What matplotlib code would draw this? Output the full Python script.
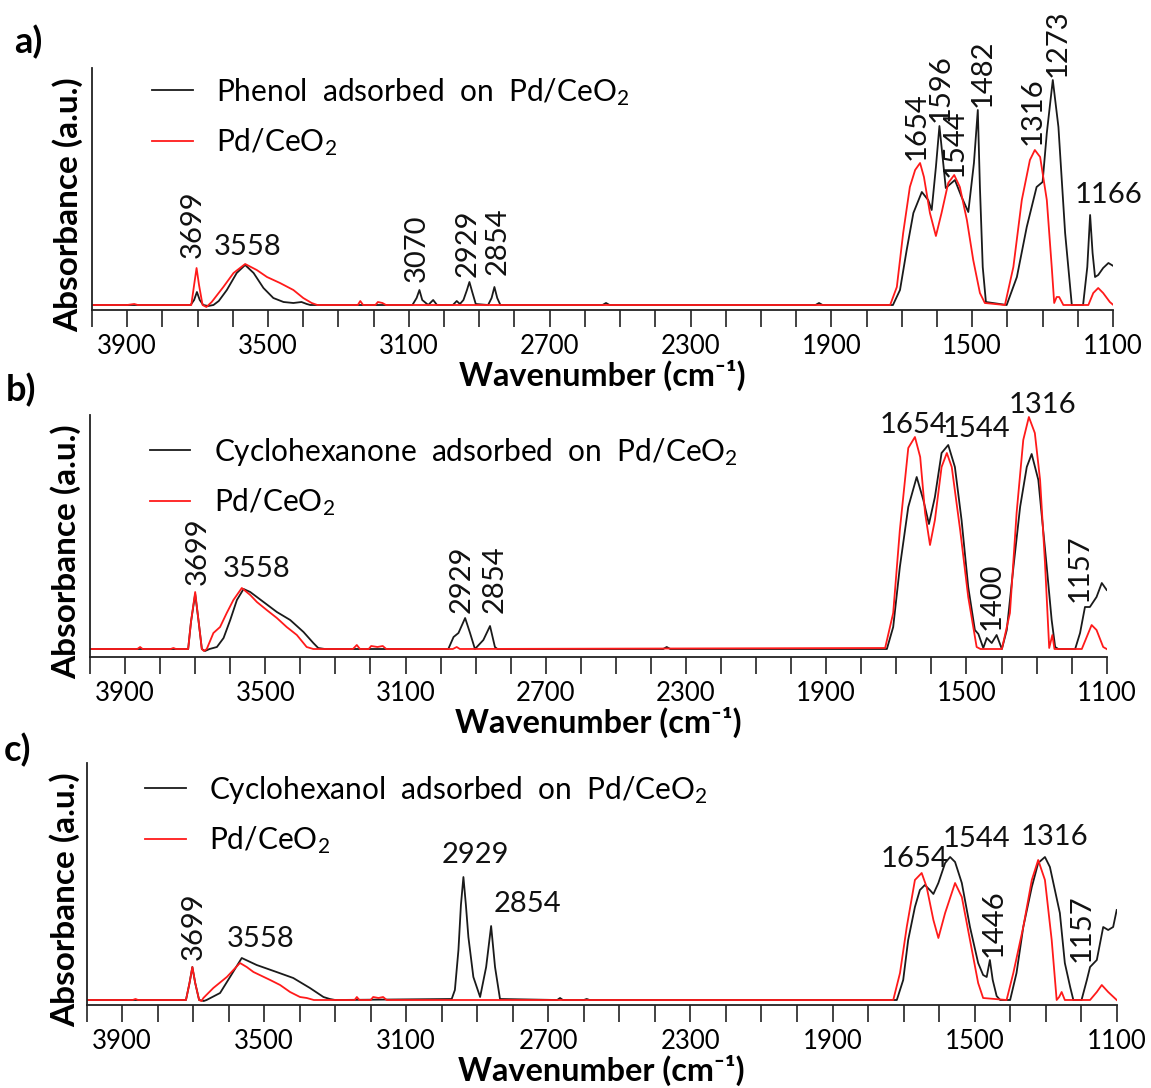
import matplotlib
matplotlib.use("Agg")
import matplotlib.pyplot as plt
from matplotlib.ticker import MultipleLocator, FixedLocator

plt.rcParams['font.family'] = ['Lato', 'DejaVu Sans']
plt.rcParams['mathtext.fontset'] = 'custom'
plt.rcParams['mathtext.rm'] = 'Lato'
plt.rcParams['mathtext.it'] = 'Lato:italic'
plt.rcParams['mathtext.bf'] = 'Lato:bold'

# ---- data: (wavenumber cm-1, absorbance a.u.) ----
a_black = [(4000, 0.05), (3720, 0.05), (3710, 0.10), (3702, 0.18), (3694, 0.10), (3684, 0.05), (3670, 0.04),
           (3655, 0.05), (3640, 0.09), (3617, 0.20), (3589, 0.37), (3565, 0.45), (3541, 0.37), (3513, 0.22),
           (3485, 0.12), (3456, 0.08), (3428, 0.07), (3405, 0.08), (3390, 0.06), (3380, 0.05), (3090, 0.05),
           (3078, 0.12), (3070, 0.20), (3062, 0.10), (3045, 0.05), (3031, 0.10), (3020, 0.05), (2975, 0.05),
           (2964, 0.09), (2955, 0.06), (2945, 0.10), (2935, 0.20), (2928, 0.28), (2920, 0.18), (2910, 0.06),
           (2875, 0.05), (2865, 0.12), (2857, 0.23), (2849, 0.12), (2840, 0.05), (2550, 0.05), (2540, 0.07),
           (2530, 0.05), (1945, 0.05), (1935, 0.07), (1925, 0.05), (1725, 0.05), (1705, 0.20), (1686, 0.60),
           (1667, 0.97), (1643, 1.18), (1625, 1.10), (1615, 1.00), (1603, 1.43), (1593, 1.84), (1584, 1.53),
           (1575, 1.22), (1549, 1.30), (1530, 1.13), (1511, 0.98), (1495, 1.47), (1484, 2.00), (1478, 1.23),
           (1470, 0.43), (1461, 0.08), (1402, 0.05), (1373, 0.33), (1345, 0.83), (1317, 1.23), (1300, 1.28),
           (1288, 1.77), (1271, 2.30), (1255, 1.83), (1236, 0.77), (1217, 0.05), (1185, 0.05), (1173, 0.43),
           (1165, 0.95), (1158, 0.57), (1151, 0.33), (1142, 0.35), (1128, 0.42), (1113, 0.47), (1099, 0.44)]

a_red = [(4000, 0.05), (3900, 0.05), (3880, 0.06), (3870, 0.05), (3718, 0.05), (3710, 0.25), (3703, 0.42),
         (3696, 0.25), (3686, 0.05), (3675, 0.03), (3660, 0.08), (3627, 0.23), (3598, 0.37), (3565, 0.46),
         (3532, 0.40), (3503, 0.33), (3466, 0.27), (3428, 0.20), (3400, 0.12), (3376, 0.07), (3360, 0.05),
         (3245, 0.05), (3238, 0.09), (3230, 0.05), (3195, 0.05), (3188, 0.08), (3175, 0.07), (3165, 0.05),
         (1733, 0.05), (1714, 0.23), (1696, 0.77), (1677, 1.23), (1662, 1.40), (1648, 1.47), (1637, 1.33),
         (1620, 0.97), (1603, 0.74), (1587, 0.97), (1568, 1.27), (1551, 1.35), (1535, 1.23), (1515, 0.90),
         (1497, 0.50), (1478, 0.17), (1464, 0.07), (1407, 0.05), (1383, 0.43), (1359, 1.10), (1336, 1.50),
         (1322, 1.60), (1307, 1.53), (1288, 1.10), (1274, 0.43), (1267, 0.07), (1260, 0.13), (1253, 0.13),
         (1241, 0.05), (1170, 0.05), (1156, 0.17), (1142, 0.22), (1128, 0.17), (1109, 0.08), (1099, 0.05)]

b_black = [(4000, 0.08), (3720, 0.08), (3712, 0.35), (3700, 0.63), (3690, 0.35), (3681, 0.08), (3672, 0.06),
           (3659, 0.08), (3638, 0.10), (3619, 0.19), (3600, 0.37), (3581, 0.57), (3562, 0.68), (3543, 0.65),
           (3505, 0.55), (3467, 0.45), (3429, 0.37), (3391, 0.25), (3363, 0.14), (3349, 0.09), (3330, 0.08),
           (2978, 0.08), (2963, 0.20), (2949, 0.24), (2930, 0.39), (2916, 0.24), (2902, 0.08), (2878, 0.17),
           (2859, 0.31), (2845, 0.10), (2838, 0.08), (2365, 0.08), (2355, 0.10), (2345, 0.08), (1727, 0.08),
           (1709, 0.30), (1690, 0.90), (1666, 1.50), (1642, 1.80), (1623, 1.57), (1607, 1.33), (1590, 1.60),
           (1571, 2.04), (1552, 2.12), (1533, 1.90), (1514, 1.37), (1495, 0.70), (1476, 0.27), (1466, 0.23),
           (1452, 0.09), (1442, 0.19), (1428, 0.14), (1414, 0.22), (1399, 0.08), (1385, 0.27), (1366, 0.90),
           (1347, 1.50), (1328, 1.90), (1314, 2.03), (1295, 1.77), (1271, 0.90), (1257, 0.37), (1247, 0.10),
           (1238, 0.08), (1190, 0.08), (1176, 0.24), (1162, 0.50), (1148, 0.50), (1129, 0.60), (1114, 0.74),
           (1100, 0.67)]

b_red = [(4000, 0.08), (3865, 0.08), (3857, 0.10), (3850, 0.08), (3770, 0.08), (3762, 0.09), (3755, 0.08),
         (3720, 0.08), (3712, 0.35), (3700, 0.65), (3690, 0.35), (3681, 0.08), (3675, 0.06), (3667, 0.08),
         (3648, 0.24), (3629, 0.30), (3610, 0.44), (3591, 0.57), (3567, 0.69), (3543, 0.62), (3524, 0.55),
         (3496, 0.47), (3467, 0.39), (3439, 0.30), (3410, 0.22), (3382, 0.10), (3363, 0.08), (3250, 0.08),
         (3239, 0.12), (3230, 0.08), (3205, 0.08), (3198, 0.11), (3180, 0.10), (3165, 0.11), (3155, 0.08),
         (2965, 0.08), (2954, 0.10), (2945, 0.08), (1732, 0.09), (1709, 0.44), (1690, 1.27), (1666, 2.09),
         (1647, 2.20), (1632, 2.00), (1618, 1.44), (1604, 1.12), (1590, 1.37), (1571, 1.90), (1556, 2.04),
         (1542, 1.90), (1518, 1.27), (1495, 0.60), (1471, 0.10), (1460, 0.08), (1399, 0.08), (1376, 0.44),
         (1357, 1.44), (1338, 2.17), (1322, 2.40), (1305, 2.24), (1290, 1.77), (1276, 0.94), (1264, 0.09),
         (1255, 0.22), (1249, 0.08), (1171, 0.08), (1157, 0.20), (1143, 0.32), (1129, 0.27), (1110, 0.10),
         (1100, 0.08)]

c_black = [(4000, 0.05), (3720, 0.05), (3710, 0.22), (3702, 0.38), (3694, 0.22), (3683, 0.05), (3670, 0.04),
           (3662, 0.05), (3624, 0.12), (3596, 0.28), (3563, 0.47), (3521, 0.40), (3465, 0.33), (3418, 0.27),
           (3371, 0.17), (3333, 0.08), (3315, 0.06), (3300, 0.05), (2972, 0.06), (2963, 0.15), (2953, 0.55),
           (2946, 1.00), (2939, 1.28), (2932, 1.00), (2925, 0.68), (2911, 0.28), (2892, 0.08), (2875, 0.38),
           (2861, 0.79), (2850, 0.38), (2836, 0.06), (2675, 0.05), (2667, 0.07), (2659, 0.05), (2600, 0.05),
           (2592, 0.06), (2584, 0.05), (1719, 0.05), (1701, 0.25), (1687, 0.65), (1668, 0.98), (1654, 1.15),
           (1640, 1.20), (1626, 1.15), (1616, 1.11), (1602, 1.22), (1583, 1.42), (1569, 1.48), (1555, 1.43),
           (1536, 1.22), (1513, 0.78), (1490, 0.42), (1476, 0.30), (1466, 0.28), (1457, 0.45), (1449, 0.25),
           (1438, 0.09), (1428, 0.05), (1400, 0.05), (1382, 0.32), (1363, 0.78), (1339, 1.18), (1321, 1.42),
           (1302, 1.48), (1288, 1.38), (1274, 1.15), (1260, 0.92), (1246, 0.42), (1231, 0.18), (1222, 0.05),
           (1199, 0.05), (1184, 0.25), (1175, 0.38), (1156, 0.45), (1138, 0.78), (1124, 0.75), (1110, 0.78),
           (1100, 0.95)]

c_red = [(4000, 0.05), (3870, 0.05), (3862, 0.06), (3855, 0.05), (3720, 0.05), (3710, 0.22), (3702, 0.38),
         (3694, 0.22), (3683, 0.05), (3676, 0.04), (3671, 0.07), (3643, 0.17), (3605, 0.28), (3568, 0.42),
         (3549, 0.38), (3530, 0.33), (3483, 0.25), (3455, 0.20), (3427, 0.13), (3399, 0.08), (3380, 0.07),
         (3360, 0.05), (3245, 0.05), (3239, 0.08), (3232, 0.05), (3200, 0.05), (3193, 0.08), (3178, 0.07),
         (3165, 0.08), (3155, 0.05), (1729, 0.05), (1710, 0.32), (1691, 0.78), (1668, 1.25), (1649, 1.32),
         (1635, 1.18), (1616, 0.85), (1602, 0.67), (1583, 0.92), (1555, 1.22), (1536, 1.08), (1513, 0.65),
         (1490, 0.22), (1476, 0.07), (1410, 0.05), (1391, 0.32), (1363, 0.78), (1339, 1.25), (1321, 1.45),
         (1302, 1.25), (1283, 0.65), (1269, 0.05), (1262, 0.08), (1255, 0.13), (1246, 0.05), (1175, 0.05),
         (1156, 0.13), (1142, 0.20), (1124, 0.13), (1100, 0.05)]

# peak labels: (text, wavenumber, absorbance, rotation)
a_peaks = [("3699", 3713, 0.52, 90), ("3558", 3558, 0.55, 0), ("3070", 3077, 0.28, 90),
           ("2929", 2932, 0.33, 90), ("2854", 2849, 0.35, 90), ("1654", 1659, 1.50, 90),
           ("1596", 1589, 1.88, 90), ("1544", 1549, 1.33, 90), ("1482", 1469, 2.03, 90),
           ("1316", 1327, 1.65, 90), ("1273", 1256, 2.33, 90), ("1166", 1114, 1.07, 0)]
b_peaks = [("3699", 3692, 0.72, 90), ("3558", 3526, 0.80, 0), ("2929", 2940, 0.44, 90),
           ("2854", 2847, 0.44, 90), ("1654", 1650, 2.24, 0), ("1544", 1471, 2.20, 0),
           ("1316", 1283, 2.44, 0), ("1400", 1428, 0.27, 90), ("1157", 1176, 0.55, 90)]
c_peaks = [("3699", 3697, 0.45, 90), ("3558", 3510, 0.58, 0), ("2929", 2905, 1.42, 0),
           ("2854", 2759, 0.93, 0), ("1654", 1668, 1.38, 0), ("1544", 1494, 1.58, 0),
           ("1316", 1274, 1.60, 0), ("1446", 1447, 0.48, 90), ("1157", 1199, 0.43, 90)]

adsorbates = ["Phenol", "Cyclohexanone", "Cyclohexanol"]
panel_letters = ["a)", "b)", "c)"]
tick_labels = [3900, 3500, 3100, 2700, 2300, 1900, 1500, 1100]

W, H = 1151, 1088
# axes boxes in pixels: left, right (x of 4000 and 1100), axis line y, top y
boxes = [(92, 1113, 310, 68), (90, 1106.7, 657, 415), (86.5, 1116.7, 1005, 763)]
legend_anchor = [(0.059, 0.968), (0.059, 0.914), (0.057, 0.956)]
ylabel_x = [-0.024, -0.024, -0.021]
letter_pos = [(14, 42), (6, 390), (4, 750)]

fig = plt.figure(figsize=(W / 100, H / 100), dpi=100)

panels = [(a_black, a_red, a_peaks), (b_black, b_red, b_peaks), (c_black, c_red, c_peaks)]
for i, (blk, red, peaks) in enumerate(panels):
    x0, x1, yb, yt = boxes[i]
    ax = fig.add_axes([x0 / W, (H - yb) / H, (x1 - x0) / W, (yb - yt) / H])

    wn, ab = zip(*blk)
    ax.plot(wn, ab, color="#1a1a1a", lw=1.3,
            label=f"{adsorbates[i]}  adsorbed  on  Pd/CeO$_2$")
    wn, ab = zip(*red)
    ax.plot(wn, ab, color="#ff1a1a", lw=1.3, label="Pd/CeO$_2$")

    for txt, x, y, rot in peaks:
        ax.text(x, y, txt, rotation=rot, ha="center", va="baseline" if rot == 0 else "bottom",
                fontsize=21, color="#111111")

    ax.set_xlim(4000, 1100)
    ax.set_ylim(0, 2.42)
    ax.xaxis.set_major_locator(FixedLocator(tick_labels))
    ax.xaxis.set_minor_locator(MultipleLocator(100))
    ax.set_xticklabels([str(t) for t in tick_labels])
    ax.tick_params(axis="x", which="both", direction="out", length=12, width=1.2,
                   color="#222222", labelsize=18.5, pad=5)
    ax.set_yticks([])
    for s in ("top", "right"):
        ax.spines[s].set_visible(False)
    for s in ("left", "bottom"):
        ax.spines[s].set_linewidth(1.3)
        ax.spines[s].set_color("#222222")

    ax.set_xlabel("Wavenumber (cm\u207b\u00b9)", fontsize=23.3, fontweight="bold")
    ax.xaxis.set_label_coords(0.5, -0.205)
    ax.set_ylabel("Absorbance (a.u.)", fontsize=24, fontweight="bold", va="center")
    ax.yaxis.set_label_coords(ylabel_x[i], 0.435)

    ax.legend(loc="upper left", bbox_to_anchor=legend_anchor[i], frameon=False, fontsize=21.5,
              handlelength=1.35, handletextpad=0.78, labelspacing=0.62, borderpad=0,
              borderaxespad=0)

    lx, ly = letter_pos[i]
    fig.text(lx / W, 1 - ly / H, panel_letters[i], fontsize=26, fontweight="bold",
             ha="left", va="center")

fig.savefig("out.png", dpi=100)
